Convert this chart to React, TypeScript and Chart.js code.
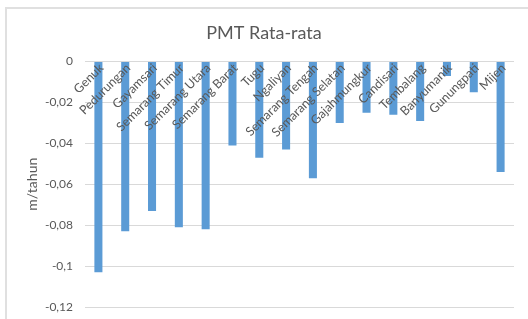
import React, { useEffect, useRef } from "react";
import { Chart, registerables } from "chart.js";

Chart.register(...registerables);

const chartTitle = "PMT Rata-rata";
const yAxisTitle = "m/tahun";
const categories = [
  "Genuk",
  "Pedurungan",
  "Gayamsari",
  "Semarang Timur",
  "Semarang Utara",
  "Semarang Barat",
  "Tugu",
  "Ngaliyan",
  "Semarang Tengah",
  "Semarang Selatan",
  "Gajahmungkur",
  "Candisari",
  "Tembalang",
  "Banyumanik",
  "Gunungpati",
  "Mijen",
];
const values = [
  -0.103, -0.083, -0.073, -0.081, -0.082, -0.041, -0.047, -0.043, -0.057, -0.030,
  -0.025, -0.026, -0.029, -0.007, -0.015, -0.054,
];
const yMin = -0.12;
const yMax = 0;
const yStep = 0.02;

const FONT = "Lato, 'Open Sans', sans-serif";
const TEXT = "#595959";
const GRID = "#d9d9d9";
const BAR = "#5b9bd5";

function fmt(v: number): string {
  const n = Number(Number(v).toFixed(2));
  return (n === 0 ? 0 : n).toString().replace(".", ",");
}

export default function App() {
  const ref = useRef<HTMLCanvasElement | null>(null);
  useEffect(() => {
    if (!ref.current) return;
    const chart = new Chart(ref.current, {
      type: "bar",
      data: {
        labels: categories,
        datasets: [
          {
            data: values,
            backgroundColor: BAR,
            borderWidth: 0,
            barPercentage: 0.3,
            categoryPercentage: 1,
          },
        ],
      },
      options: {
        responsive: false,
        animation: false,
        devicePixelRatio: 1,
        layout: { padding: { left: 0, right: 0, top: 0, bottom: 12 } },
        plugins: {
          legend: { display: false },
          tooltip: { enabled: false },
          title: {
            display: true,
            text: chartTitle,
            color: TEXT,
            font: { family: FONT, size: 18, weight: "normal" },
            padding: { top: 22, bottom: 18 },
          },
        },
        scales: {
          x: {
            type: "category",
            position: { y: 0 } as any,
            grid: { display: false, drawTicks: false },
            border: { display: false },
            ticks: {
              autoSkip: false,
              minRotation: 45,
              maxRotation: 45,
              color: TEXT,
              font: { family: FONT, size: 12.5 },
              padding: -1,
              labelOffset: 3,
              z: 1,
            },
            afterFit: (s: any) => {
              s.height = 0;
            },
          },
          y: {
            min: yMin,
            max: yMax,
            grid: { color: GRID, lineWidth: 1, drawTicks: false },
            border: { display: false },
            ticks: {
              stepSize: yStep,
              color: TEXT,
              font: { family: FONT, size: 12 },
              padding: 12,
              callback: (v: any) => fmt(v),
            },
            title: {
              display: true,
              text: yAxisTitle,
              color: TEXT,
              font: { family: FONT, size: 14 },
              padding: { top: 24, bottom: 0 },
            },
            afterFit: (s: any) => {
              s.width = 85;
              s.paddingTop = 7;
              s.paddingBottom = 7;
            },
          },
          yRight: {
            type: "linear",
            position: "right",
            display: true,
            grid: { display: false, drawTicks: false },
            border: { display: false },
            ticks: { display: false },
            afterFit: (s: any) => {
              s.width = 14;
            },
          },
        },
      },
    });
    return () => chart.destroy();
  }, []);
  return (
    <div style={{ position: "fixed", left: 0, top: 0, width: 528, height: 319, background: "#fff", overflow: "hidden" }}>
      <div
        style={{
          position: "absolute",
          left: 5,
          top: 7,
          width: 600,
          height: 400,
          border: "2px solid #e0e0e0",
          boxSizing: "border-box",
        }}
      />
      <canvas ref={ref} width={528} height={319} style={{ position: "absolute", left: 0, top: 0, width: 528, height: 319 }} />
    </div>
  );
}
